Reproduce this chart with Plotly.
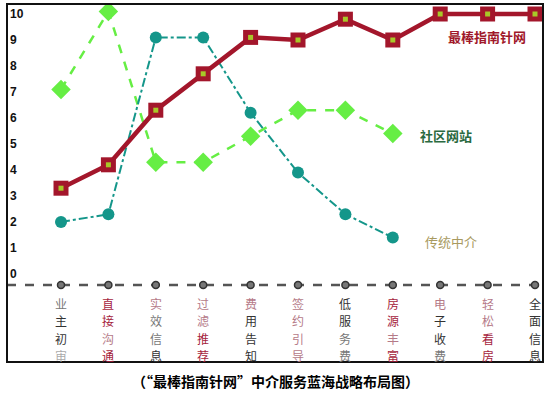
import plotly.graph_objects as go

categories = ["业主初审", "直接沟通", "实效信息", "过滤推荐", "费用告知", "签约引导",
              "低服务费", "房源丰富", "电子收费", "轻松看房", "全面信息"]
zhinan = [3.3, 4.2, 6.3, 7.7, 9.1, 9.0, 9.8, 9.0, 10.0, 10.0, 10.0]
shequ = [7.1, 10.1, 4.3, 4.3, 5.3, 6.3, 6.3, 5.4]
chuantong = [2.0, 2.3, 9.1, 9.1, 6.2, 3.9, 2.3, 1.4]
y_ticks = list(range(0, 11))
series_names = ["最棒指南针网", "社区网站", "传统中介"]
caption = "（“最棒指南针网”中介服务蓝海战略布局图）"

# per-character colours of the category labels
D, G, L, M, R = "#333333", "#777777", "#aaaaaa", "#b57a88", "#a51d3d"
char_colors = [
    [G, D, D, L], [R, R, M, R], [M, G, G, D], [M, M, R, R], [M, D, D, D], [M, M, M, M],
    [D, D, G, G], [R, R, M, R], [M, D, D, G], [M, M, R, R], [D, D, D, D],
]

W, H = 550, 394
L_, R_, T_, B_ = 7, 7, 4, 32
pw, ph = W - L_ - R_, H - T_ - B_
x0px, dxpx = 61, 47.4
y0px, dypx = 274, 26.0
xr = [0 - (x0px - L_) / dxpx, 10 + ((W - R_) - (x0px + 10 * dxpx)) / dxpx]
yr = [0 - ((H - B_) - y0px) / dypx, 10 + (y0px - 10 * dypx - T_) / dypx]

def px(xp):
    return (xp - L_) / pw

def py(yp):
    return 1 - (yp - T_) / ph

n = len(categories)
xi = list(range(n))
axis_y = -0.42

fig = go.Figure()

# dashed base axis with category dots
fig.add_trace(go.Scatter(x=[xr[0], xr[1]], y=[axis_y, axis_y], mode="lines",
                         line=dict(color="#555555", width=2.5, dash="dash"),
                         hoverinfo="skip", showlegend=False))
fig.add_trace(go.Scatter(x=xi, y=[axis_y] * n, mode="markers",
                         marker=dict(symbol="circle", size=7, color="#777777",
                                     line=dict(color="#333333", width=1.5)),
                         hoverinfo="skip", showlegend=False))

# 社区网站
fig.add_trace(go.Scatter(x=xi[:len(shequ)], y=shequ, mode="lines+markers",
                         line=dict(color="#66ee44", width=2.5, dash="dash"),
                         marker=dict(symbol="diamond", size=15, color="#66ee44"),
                         name=series_names[1], showlegend=False))
# 传统中介
fig.add_trace(go.Scatter(x=xi[:len(chuantong)], y=chuantong, mode="lines+markers",
                         line=dict(color="#14968a", width=2, dash="dashdot"),
                         marker=dict(symbol="circle", size=12, color="#14968a"),
                         name=series_names[2], showlegend=False))
# 最棒指南针网
fig.add_trace(go.Scatter(x=xi, y=zhinan, mode="lines+markers",
                         line=dict(color="#a3162b", width=4.5),
                         marker=dict(symbol="square", size=15, color="#a3162b"),
                         name=series_names[0], showlegend=False))
fig.add_trace(go.Scatter(x=xi, y=zhinan, mode="markers",
                         marker=dict(symbol="square", size=5, color="#a8c828"),
                         hoverinfo="skip", showlegend=False))

ann = []
for i, cat in enumerate(categories):
    for k, (ch, c) in enumerate(zip(cat, char_colors[i])):
        ann.append(dict(x=i, y=py(303 + 17.5 * k), xref="x", yref="paper", text=ch,
                        showarrow=False, xanchor="center", yanchor="middle",
                        font=dict(size=12, family="Noto Sans CJK SC", color=c)))

def lab(xp, yp, text, color, weight="normal", size=13):
    return dict(x=px(xp), y=py(yp), xref="paper", yref="paper", text=text,
                showarrow=False, xanchor="center", yanchor="middle",
                font=dict(size=size, color=color, family="Noto Sans CJK SC", weight=weight))

ann.append(lab(487, 36, series_names[0], "#a0182a", "bold"))
ann.append(lab(446, 136, series_names[1], "#2a6a40", "bold"))
ann.append(lab(451, 241, series_names[2], "#a89a60"))
ann.append(lab(275, 381, caption, "#000000", "bold", 14))

fig.update_layout(
    width=W, height=H,
    margin=dict(l=L_, r=R_, t=T_, b=B_),
    paper_bgcolor="white", plot_bgcolor="white",
    xaxis=dict(range=xr, showgrid=False, zeroline=False, showticklabels=False,
               showline=False, fixedrange=True),
    yaxis=dict(range=yr, showgrid=False, zeroline=False, tickvals=y_ticks,
               ticktext=[str(v) for v in y_ticks], ticklabelposition="inside",
               ticks="", showline=False,
               tickfont=dict(size=12, color="#111111", family="Liberation Sans", weight="bold")),
    annotations=ann,
    shapes=[dict(type="rect", xref="paper", yref="paper", x0=0, y0=0, x1=1, y1=1,
                 line=dict(color="#111111", width=2))],
    showlegend=False,
)

fig.write_html("out.html")
